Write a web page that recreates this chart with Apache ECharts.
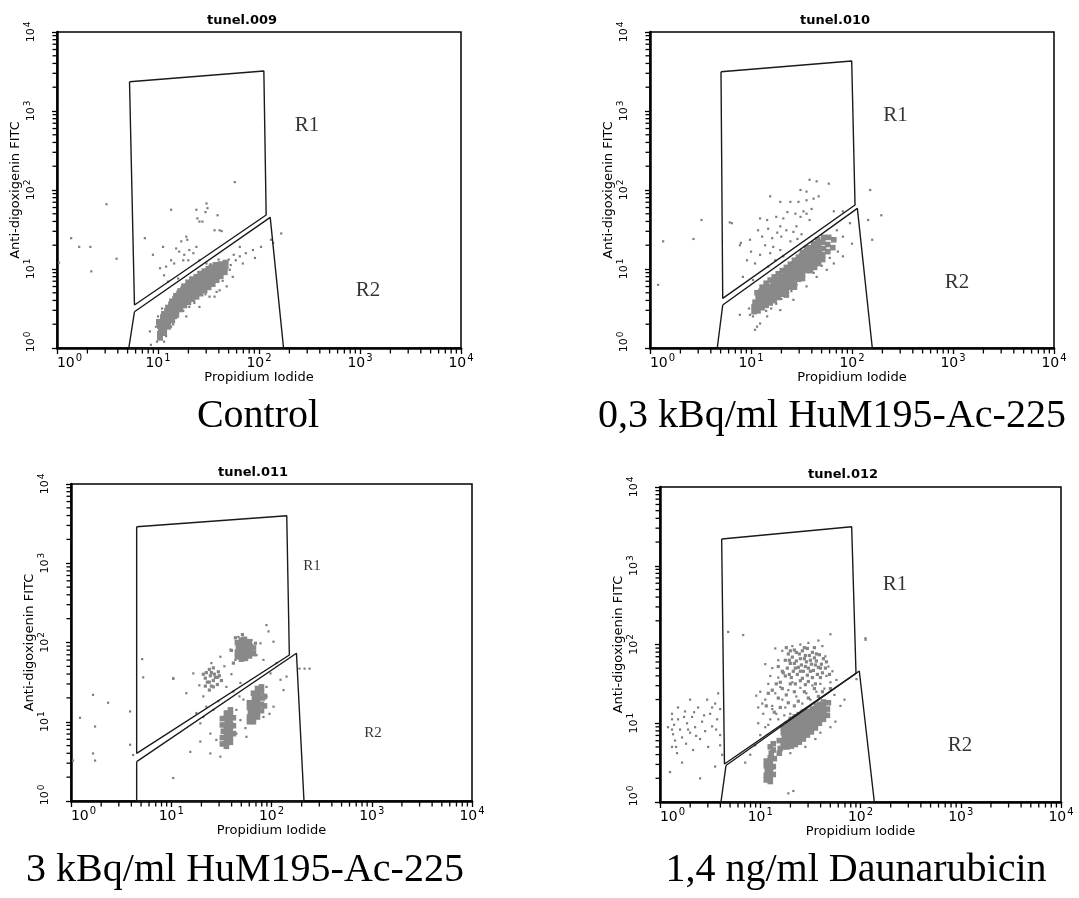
<!DOCTYPE html>
<html>
<head>
<meta charset="utf-8">
<script src="https://cdn.jsdelivr.net/npm/echarts@6/dist/echarts.min.js"></script>
<style>
  html, body { margin: 0; padding: 0; background: #fff; }
  #chart { width: 1079px; height: 898px; }
</style>
</head>
<body>
<div id="chart"></div>
<script>
// All event coordinates are in decades (log10 of channel intensity), 0..4.
const decadeExponents = [0, 1, 2, 3, 4];
const minorMultipliers = [2, 3, 4, 5, 6, 7, 8, 9];
const panelTitles = ['tunel.009', 'tunel.010', 'tunel.011', 'tunel.012'];
const panelCaptions = ['Control', '0,3 kBq/ml HuM195-Ac-225', '3 kBq/ml HuM195-Ac-225', '1,4 ng/ml Daunarubicin'];
const xAxisName = 'Propidium Iodide';
const yAxisName = 'Anti-digoxigenin FITC';

// ---- Control (tunel.009) ----
const ctrlGateR1 = [[0.718,3.371],[2.048,3.506],[2.071,1.684],[0.767,0.544],[0.718,3.371]];
const ctrlGateR2 = [[0.767,0.459],[2.111,1.654],[2.243,0],[0.711,0],[0.767,0.459]];
const ctrlRegions = [[2.475,2.816,'R1'],[3.079,0.728,'R2']];
const ctrlCore = [
  [1.02,0.13],[1.02,0.18],[1.03,0.23],[1.02,0.28],[1.01,0.33],
  [1.06,0.19],[1.06,0.24],[1.07,0.29],[1.06,0.34],[1.05,0.39],[1.06,0.43],
  [1.10,0.27],[1.10,0.32],[1.11,0.37],[1.10,0.42],[1.09,0.47],[1.10,0.51],
  [1.14,0.35],[1.14,0.40],[1.15,0.45],[1.14,0.50],[1.13,0.55],[1.14,0.59],
  [1.18,0.42],[1.18,0.47],[1.19,0.52],[1.18,0.57],[1.17,0.62],[1.18,0.66],
  [1.22,0.49],[1.22,0.54],[1.23,0.59],[1.22,0.64],[1.21,0.69],[1.22,0.72],
  [1.26,0.54],[1.26,0.59],[1.27,0.64],[1.26,0.69],[1.25,0.74],[1.26,0.78],
  [1.30,0.58],[1.30,0.63],[1.31,0.68],[1.30,0.73],[1.29,0.78],[1.30,0.83],
  [1.34,0.62],[1.34,0.67],[1.35,0.72],[1.34,0.77],[1.33,0.82],[1.34,0.87],
  [1.38,0.65],[1.38,0.70],[1.39,0.75],[1.38,0.80],[1.37,0.85],[1.38,0.90],
  [1.42,0.69],[1.42,0.74],[1.43,0.79],[1.42,0.84],[1.41,0.89],[1.42,0.94],
  [1.46,0.73],[1.46,0.78],[1.47,0.83],[1.46,0.88],[1.45,0.93],[1.46,0.97],
  [1.50,0.77],[1.50,0.82],[1.51,0.87],[1.50,0.92],[1.49,0.97],[1.50,1.00],
  [1.54,0.81],[1.54,0.86],[1.55,0.91],[1.54,0.96],[1.53,1.02],
  [1.58,0.86],[1.58,0.91],[1.59,0.96],[1.58,1.01],[1.57,1.05],
  [1.62,0.91],[1.62,0.96],[1.63,1.01],[1.62,1.06],
  [1.66,0.96],[1.66,1.02],[1.67,1.08]
];
const ctrlSparse = [
  [1.48,1.83],[1.49,1.77],[1.47,1.72],[1.38,1.75],[1.39,1.64],[1.59,1.68],[1.41,1.60],[1.44,1.60],
  [1.56,1.49],[1.61,1.49],[1.63,1.48],
  [1.13,1.75],[0.87,1.39],[0.95,1.18],[1.05,1.28],[1.18,1.26],[1.21,1.22],[1.23,1.35],[1.28,1.41],
  [1.29,1.37],[1.26,1.18],[1.25,1.11],[1.30,1.11],[1.08,1.03],[1.02,1.01],[1.06,0.92],[1.13,1.11],
  [1.16,1.07],[1.31,1.24],[1.35,1.20],[1.38,1.28],[1.20,0.88],[1.10,0.84],[1.41,1.11],[1.48,1.07],
  [1.81,1.16],[1.87,1.20],[1.77,1.11],[1.84,1.07],[1.94,1.24],[2.02,1.28],[1.96,1.14],[1.71,0.99],
  [1.74,0.90],[1.68,0.78],[1.61,0.73],[1.56,0.65],[1.81,1.28],
  [2.12,1.37],[2.14,1.33],[2.22,1.45],
  [0.92,0.21],[0.98,0.27],[1.13,0.27],[1.18,0.38],[1.28,0.40],[1.31,0.52],[1.41,0.52],[1.51,0.65],
  [1.58,0.71],[0.93,0.04],
  [1.00,0.40],[1.04,0.50],[1.12,0.58],[1.16,0.66],[1.24,0.78],[1.32,0.88],[1.40,0.96],[1.52,1.06],
  [1.60,1.12],[1.70,1.12],[1.72,1.05],[1.75,1.18],[1.69,1.02],[1.64,0.85],[1.47,0.68],[1.36,0.57],
  [1.25,0.47],[1.15,0.30],[1.08,0.15],[0.99,0.08],[1.06,0.08],
  [1.76,2.10],
  [0.49,1.82],[0.14,1.39],[0.22,1.28],[0.33,1.28],[0.59,1.13],[0.34,0.97],[0.02,1.08]
];

// ---- 0,3 kBq/ml HuM195-Ac-225 (tunel.010) ----
const ac03GateR1 = [[0.703,3.497],[1.997,3.633],[2.030,1.810],[0.720,0.629],[0.703,3.497]];
const ac03GateR2 = [[0.720,0.544],[2.053,1.768],[2.201,0],[0.666,0],[0.720,0.544]];
const ac03Regions = [[2.431,2.943,'R1'],[3.040,0.829,'R2']];
const ac03Core = [
  [1.03,0.46],[1.03,0.52],[1.04,0.58],
  [1.07,0.47],[1.07,0.53],[1.08,0.59],[1.07,0.65],[1.06,0.70],
  [1.11,0.51],[1.11,0.57],[1.12,0.62],[1.11,0.67],[1.10,0.72],[1.11,0.77],
  [1.15,0.54],[1.15,0.60],[1.16,0.65],[1.15,0.70],[1.14,0.75],[1.15,0.82],
  [1.19,0.57],[1.19,0.62],[1.20,0.68],[1.19,0.73],[1.18,0.78],[1.19,0.86],
  [1.23,0.60],[1.23,0.66],[1.24,0.71],[1.23,0.77],[1.22,0.83],[1.23,0.90],
  [1.27,0.64],[1.27,0.69],[1.28,0.75],[1.27,0.81],[1.26,0.87],[1.27,0.94],
  [1.31,0.68],[1.31,0.74],[1.32,0.79],[1.31,0.85],[1.30,0.91],[1.31,0.98],
  [1.35,0.72],[1.35,0.78],[1.36,0.84],[1.35,0.90],[1.34,0.96],[1.35,1.02],
  [1.39,0.77],[1.39,0.83],[1.40,0.89],[1.39,0.95],[1.38,1.01],[1.39,1.06],
  [1.43,0.82],[1.43,0.88],[1.44,0.94],[1.43,1.00],[1.42,1.06],[1.43,1.11],
  [1.47,0.87],[1.47,0.93],[1.48,0.99],[1.47,1.05],[1.46,1.11],[1.47,1.15],
  [1.51,0.93],[1.51,0.99],[1.52,1.05],[1.51,1.11],[1.50,1.17],[1.51,1.21],
  [1.55,0.98],[1.55,1.04],[1.56,1.10],[1.55,1.16],[1.54,1.21],[1.55,1.26],
  [1.59,1.03],[1.59,1.09],[1.60,1.15],[1.59,1.21],[1.58,1.27],
  [1.63,1.08],[1.63,1.14],[1.64,1.20],[1.63,1.26],[1.62,1.32],
  [1.67,1.13],[1.67,1.19],[1.68,1.25],[1.67,1.31],[1.66,1.37],
  [1.71,1.18],[1.72,1.26],[1.71,1.34],[1.72,1.40],
  [1.76,1.22],[1.76,1.31],[1.77,1.40],
  [1.81,1.27],[1.82,1.37],
  [1.59,0.98],[1.63,1.02],[1.67,1.07],[1.71,1.12],[1.51,0.88],[1.43,0.77],[1.35,0.67]
];
const ac03Sparse = [
  [1.58,2.13],[1.65,2.11],[1.77,2.08],[1.49,2.00],[1.55,1.98],[1.47,1.85],[1.55,1.87],[1.62,1.89],
  [1.67,1.92],[1.52,1.73],[1.55,1.70],[1.49,1.66],[1.58,1.62],[1.19,1.92],[1.29,1.85],[1.39,1.85],
  [1.09,1.64],[1.16,1.62],[1.25,1.66],[1.32,1.64],[1.07,1.49],[1.17,1.51],[1.29,1.54],[1.35,1.49],
  [1.45,1.54],[0.89,1.30],[0.99,1.37],[1.11,1.41],[1.21,1.39],[1.30,1.41],[1.39,1.35],[1.09,1.18],
  [1.19,1.20],[1.29,1.24],[0.96,1.11],[1.04,1.07],[1.17,1.03],[1.24,1.11],[0.81,1.58],[0.92,0.90],
  [1.02,0.86],[1.32,1.16],[1.82,1.73],[1.91,1.73],[1.98,1.58],[1.85,1.49],[1.82,1.37],[1.91,1.41],
  [2.00,1.32],[1.91,1.16],[1.82,1.07],[1.75,0.99],[1.65,0.90],[1.55,0.78],[1.42,0.61],[1.29,0.48],
  [1.16,0.40],[0.99,0.42],[0.89,0.42],[1.06,0.27],[1.04,0.23],[1.09,0.31],[2.18,2.00],[2.29,1.68],
  [2.16,1.62],[2.20,1.37],
  [1.44,1.70],[1.60,1.76],[1.36,1.72],[1.50,1.44],[1.42,1.47],[1.26,1.46],[1.14,1.30],[1.00,1.22],
  [1.22,1.28],[1.46,1.38],
  [1.45,0.80],[1.50,0.86],[1.40,0.72],[1.30,0.62],[1.25,0.56],[1.20,0.50],[1.15,0.47],[1.62,0.95],
  [1.70,1.04],[1.78,1.14],[1.86,1.22],[0.98,0.50],[1.02,0.40],
  [0.51,1.62],[0.43,1.38],[0.13,1.35],[0.08,0.80],[0.79,1.59],[0.90,1.33]
];

// ---- 3 kBq/ml HuM195-Ac-225 (tunel.011) ----
const ac3GateR1 = [[0.655,3.461],[2.152,3.600],[2.178,1.842],[0.655,0.602],[0.655,3.461]];
const ac3GateR2 = [[0.655,0.496],[2.249,1.864],[2.324,0],[0.655,0],[0.655,0.496]];
const ac3Regions = [[2.404,2.959,'R1'],[3.012,0.858,'R2']];
const ac3Core = [
  [1.66,1.82],[1.66,1.88],[1.67,1.94],[1.66,2.00],
  [1.70,1.79],[1.70,1.85],[1.71,1.91],[1.70,1.97],[1.70,2.03],
  [1.74,1.80],[1.74,1.86],[1.75,1.92],[1.74,1.98],[1.73,2.04],
  [1.78,1.83],[1.78,1.89],[1.79,1.95],[1.78,2.01],
  [1.82,1.86],[1.82,1.93],
  [1.51,0.72],[1.51,0.80],[1.52,0.88],[1.51,0.96],[1.51,1.04],
  [1.55,0.69],[1.55,0.75],[1.56,0.81],[1.55,0.87],[1.55,0.93],[1.56,0.99],[1.55,1.05],[1.55,1.11],
  [1.59,0.74],[1.59,0.80],[1.58,0.86],[1.59,0.92],[1.59,0.98],[1.58,1.04],[1.59,1.10],[1.59,1.15],
  [1.62,0.85],[1.62,0.95],[1.62,1.05],
  [1.78,1.00],[1.78,1.06],[1.79,1.12],[1.78,1.18],[1.78,1.24],
  [1.82,1.00],[1.82,1.06],[1.83,1.12],[1.82,1.18],[1.82,1.24],[1.83,1.30],[1.82,1.36],
  [1.86,1.06],[1.86,1.12],[1.87,1.18],[1.86,1.24],[1.86,1.30],[1.87,1.36],[1.86,1.42],
  [1.90,1.14],[1.90,1.22],[1.91,1.30],[1.90,1.38],[1.90,1.44],
  [1.93,1.20],[1.93,1.32]
];
const ac3Cloud = [
  [1.34,1.45],[1.34,1.55],[1.35,1.62],
  [1.38,1.40],[1.38,1.50],[1.39,1.58],[1.38,1.66],
  [1.42,1.44],[1.42,1.52],[1.43,1.60],[1.42,1.68],
  [1.46,1.47],[1.46,1.56],[1.47,1.63],
  [1.50,1.52],[1.62,1.74],[1.64,2.06],[1.84,1.99],[1.60,1.90],[1.71,2.10],
  [1.36,1.50],[1.40,1.62],[1.44,1.56],[1.48,1.58],[1.32,1.60],[1.40,1.45]
];
const ac3Sparse = [
  [1.95,2.22],[1.97,2.14],[1.67,2.07],[1.80,2.03],[1.89,1.99],[2.02,2.01],[1.59,1.91],[1.85,1.84],
  [1.49,1.82],[1.64,1.78],[1.92,1.78],[2.05,1.74],[1.40,1.74],[1.22,1.61],[1.02,1.55],[1.15,1.36],
  [1.32,1.32],[1.55,1.44],[1.62,1.38],[1.69,1.49],[1.99,1.61],[2.09,1.53],[2.12,1.40],[1.95,1.32],
  [2.02,1.19],[1.92,1.06],[1.65,1.15],[1.69,1.02],[1.42,1.15],[1.32,1.06],[1.29,0.98],[1.39,0.85],
  [1.45,0.77],[1.65,0.85],[1.29,0.75],[1.19,0.62],[1.49,0.56],[1.39,0.60],[0.71,1.79],[0.59,1.13],
  [0.62,0.58],[1.02,0.29],[1.95,1.44],[2.15,1.57],[1.75,0.81],[1.35,1.19],[1.25,1.11],
  [1.72,1.28],[1.68,1.32],[1.98,1.10],[1.74,0.92],[1.47,1.26],[1.60,1.60],[1.53,1.70],[1.28,1.46],
  [0.72,1.56],[0.22,1.34],[0.09,1.05],[0.24,0.94],[0.37,1.24],[0.22,0.60],[0.24,0.51],
  [0.02,0.51],[0.59,0.71],[1.02,1.54],[2.28,1.67],[2.33,1.67],[2.38,1.67]
];

// ---- 1,4 ng/ml Daunarubicin (tunel.012) ----
const dnrGateR1 = [[0.615,3.340],[1.912,3.496],[1.955,1.634],[0.643,0.483],[0.615,3.340]];
const dnrGateR2 = [[0.658,0.463],[1.988,1.663],[2.138,0],[0.608,0],[0.658,0.463]];
const dnrRegions = [[2.344,2.762,'R1'],[2.993,0.717,'R2']];
const dnrCore = [
  [1.23,0.70],[1.23,0.76],[1.24,0.82],[1.23,0.88],[1.23,0.94],
  [1.27,0.70],[1.27,0.76],[1.28,0.82],[1.27,0.88],[1.27,0.94],[1.27,0.99],
  [1.31,0.71],[1.31,0.77],[1.32,0.83],[1.31,0.89],[1.31,0.95],[1.32,1.01],[1.31,1.05],
  [1.35,0.73],[1.35,0.79],[1.36,0.85],[1.35,0.91],[1.35,0.97],[1.36,1.03],[1.35,1.08],
  [1.39,0.76],[1.39,0.82],[1.40,0.88],[1.39,0.94],[1.39,1.00],[1.40,1.06],[1.39,1.11],
  [1.43,0.80],[1.43,0.86],[1.44,0.92],[1.43,0.98],[1.43,1.04],[1.44,1.10],[1.43,1.14],
  [1.47,0.85],[1.47,0.91],[1.48,0.97],[1.47,1.03],[1.47,1.09],[1.48,1.15],
  [1.51,0.89],[1.51,0.95],[1.52,1.01],[1.51,1.07],[1.51,1.13],[1.52,1.18],
  [1.55,0.94],[1.55,1.00],[1.56,1.06],[1.55,1.12],[1.55,1.18],[1.56,1.22],
  [1.59,1.00],[1.59,1.06],[1.60,1.12],[1.59,1.18],[1.59,1.24],
  [1.63,1.05],[1.63,1.11],[1.64,1.17],[1.63,1.23],[1.63,1.27],
  [1.67,1.10],[1.67,1.18],[1.68,1.26],
  [1.19,0.62],[1.20,0.68],[1.19,0.78],
  [1.06,0.28],[1.06,0.34],[1.07,0.40],[1.06,0.46],[1.06,0.52],
  [1.10,0.26],[1.10,0.32],[1.10,0.38],[1.11,0.44],[1.10,0.50],[1.10,0.56],[1.11,0.62],[1.10,0.70],
  [1.13,0.35],[1.13,0.45],[1.14,0.55],[1.13,0.66],[1.13,0.74]
];
const dnrCloud = [
  [1.25,1.60],[1.27,1.70],[1.25,1.80],[1.28,1.88],
  [1.31,1.58],[1.33,1.66],[1.30,1.76],[1.32,1.84],[1.34,1.93],
  [1.37,1.62],[1.38,1.71],[1.36,1.79],[1.39,1.88],
  [1.42,1.57],[1.43,1.66],[1.41,1.74],[1.44,1.82],[1.42,1.92],
  [1.47,1.61],[1.48,1.70],[1.46,1.78],[1.49,1.86],[1.47,1.95],
  [1.52,1.58],[1.53,1.67],[1.51,1.75],[1.54,1.83],[1.52,1.90],
  [1.57,1.62],[1.58,1.71],[1.56,1.79],[1.59,1.87],
  [1.62,1.64],[1.61,1.75],[1.63,1.82],
  [1.20,1.52],[1.22,1.66],[1.18,1.72],[1.35,1.50],[1.45,1.49],[1.55,1.50],
  [1.23,1.64],[1.29,1.62],[1.35,1.70],[1.40,1.66],[1.45,1.72],[1.50,1.66],[1.55,1.74],[1.60,1.70],
  [1.29,1.80],[1.34,1.76],[1.40,1.82],[1.45,1.86],[1.50,1.80],[1.56,1.88],[1.36,1.90],[1.44,1.96],
  [1.30,1.92],[1.26,1.96],[1.54,1.96],[1.65,1.70],[1.66,1.78],[1.69,1.62],[1.60,1.58],[1.48,1.53],
  [1.40,1.54],[1.30,1.50],[1.22,1.44],[1.16,1.50],[1.12,1.42],[1.26,1.36],[1.34,1.40],[1.44,1.40],
  [1.54,1.44],[1.62,1.40],[1.70,1.44],[1.58,1.34],[1.48,1.32],[1.38,1.28],[1.28,1.26],[1.18,1.32],
  [1.08,1.38],[1.06,1.22],[1.14,1.14],[1.20,1.20],[1.34,1.22]
];
const dnrSparse = [
  [1.00,1.40],[1.05,1.30],[1.08,1.50],[1.12,1.22],[1.15,1.38],[1.18,1.58],[1.20,1.46],[1.22,1.30],
  [1.25,1.20],[1.28,1.42],[1.32,1.52],[1.30,1.12],[1.36,1.34],[1.40,1.45],[1.42,1.25],[1.46,1.38],
  [1.50,1.30],[1.52,1.48],[1.56,1.40],[1.60,1.50],[1.64,1.44],[1.66,1.60],[1.68,1.72],[1.70,1.52],
  [1.72,1.66],[1.65,1.85],[1.62,1.98],[1.58,2.05],[1.48,2.02],[1.40,2.00],[1.32,1.98],[1.22,1.92],
  [1.18,1.80],[1.12,1.70],[1.15,1.95],[1.74,1.36],[1.76,1.55],[1.10,1.60],[1.05,1.75],[0.98,1.20],
  [1.10,1.05],[1.16,1.12],[1.05,0.95],[1.00,0.85],[0.95,0.72],[1.80,1.22],[1.84,1.30],[1.75,1.02],
  [1.70,0.95],[1.30,0.62],[1.45,0.70],[1.55,0.80],[1.60,0.88],[0.90,0.60],[0.85,0.50],
  [0.98,1.00],[1.03,1.12],[1.08,0.98],[1.12,1.18],[1.18,1.05],[1.02,1.25],[0.96,1.35],[1.24,1.10],
  [1.70,2.13],[2.05,2.08],[1.96,1.56],[2.05,2.06],[0.68,2.16],[0.83,2.12],[1.28,0.11],[1.33,0.14],
  [0.12,1.12],[0.14,0.98],[0.13,0.86],[0.15,0.78],[0.12,0.70],[0.18,1.05],[0.20,0.92],[0.22,0.82],
  [0.17,0.62],[0.25,1.15],[0.27,1.00],[0.30,0.88],[0.26,0.74],[0.32,1.08],[0.35,0.95],[0.33,0.66],
  [0.38,1.20],[0.40,0.80],[0.42,1.02],[0.45,0.90],[0.47,1.30],[0.50,1.12],[0.52,0.96],[0.48,0.70],
  [0.55,1.25],[0.57,1.05],[0.60,0.85],[0.58,1.38],[0.60,1.18],[0.22,0.50],[0.10,0.38],[0.40,0.30],
  [0.55,0.45],[0.62,0.60],[0.08,0.95],[0.30,1.30],
  [0.12,1.05],[0.12,0.92],[0.16,0.70],[0.24,1.08],[0.28,0.92],[0.36,0.84],[0.44,1.10],[0.52,1.20],
  [0.56,0.92],[0.60,0.72],[0.18,1.20],[0.34,1.14]
];

// ---------- chart construction ----------
// minor tick positions inside each decade (log10 of 2..9 times a power of ten)
const minorTickValues = [];
decadeExponents.slice(0, -1).forEach(function (e) {
  minorMultipliers.forEach(function (m) { minorTickValues.push(e + Math.log10(m)); });
});

const panels = [
  { core: ctrlCore, cloud: [], sparse: ctrlSparse, r1: ctrlGateR1, r2: ctrlGateR2, regions: ctrlRegions, regionSize: 21, coreSize: 6 },
  { core: ac03Core, cloud: [], sparse: ac03Sparse, r1: ac03GateR1, r2: ac03GateR2, regions: ac03Regions, regionSize: 21, coreSize: 5.6 },
  { core: ac3Core, cloud: ac3Cloud, sparse: ac3Sparse, r1: ac3GateR1, r2: ac3GateR2, regions: ac3Regions, regionSize: 15, coreSize: 5.6 },
  { core: dnrCore, cloud: dnrCloud, sparse: dnrSparse, r1: dnrGateR1, r2: dnrGateR2, regions: dnrRegions, regionSize: 21, coreSize: 5.6 }
];

const gridBoxes = [
  { left: 57, top: 32, width: 404, height: 316 },
  { left: 650, top: 32, width: 404, height: 316 },
  { left: 71, top: 484, width: 401, height: 317 },
  { left: 660, top: 487, width: 401, height: 315 }
];
const titlePos = [[242, 21], [835, 21], [253, 473], [843, 475]];
const captionPos = [[258, 416], [832, 416], [245, 870], [856, 870]];

const SANS = 'DejaVu Sans';
const SERIF = 'Liberation Serif';

// "10" with a raised exponent; the first decade label is nudged inward
function powerLabel(v) { return (v === 0 ? '{b0|10}' : '{b|10}') + '{e|' + Math.round(v) + '}'; }

const xRich = {
  b: { fontFamily: SANS, fontSize: 14, color: '#000', verticalAlign: 'bottom' },
  b0: { fontFamily: SANS, fontSize: 14, color: '#000', verticalAlign: 'bottom', padding: [0, 0, 0, 25] },
  e: { fontFamily: SANS, fontSize: 10, color: '#000', verticalAlign: 'top', padding: [0, 0, 7, 1] }
};
const yRich = {
  b: { fontFamily: SANS, fontSize: 11, color: '#000', verticalAlign: 'bottom' },
  b0: { fontFamily: SANS, fontSize: 11, color: '#000', verticalAlign: 'bottom', padding: [0, 0, 0, 12] },
  e: { fontFamily: SANS, fontSize: 9, color: '#000', verticalAlign: 'top', padding: [0, 0, 5, 1] }
};

const grid = [], xAxis = [], yAxis = [], series = [], graphic = [];

gridBoxes.forEach(function (box, i) {
  grid.push(Object.assign({ show: true, borderColor: '#000', borderWidth: 1.5, backgroundColor: '#fff' }, box));

  xAxis.push({
    type: 'value', gridIndex: i, min: 0, max: 4, interval: 1,
    name: xAxisName, nameLocation: 'middle', nameGap: 20,
    nameTextStyle: { fontFamily: SANS, fontSize: 13, color: '#000' },
    axisLine: { show: true, onZero: false, lineStyle: { color: '#000', width: 2.5 } },
    axisTick: { show: true, length: 6, lineStyle: { color: '#000', width: 1.3 } },
    axisLabel: { formatter: powerLabel, margin: 5, rich: xRich },
    splitLine: { show: false }
  });

  yAxis.push({
    type: 'value', gridIndex: i, min: 0, max: 4, interval: 1,
    name: yAxisName, nameLocation: 'middle', nameGap: 33, nameRotate: 90,
    nameTextStyle: { fontFamily: SANS, fontSize: 13, color: '#000' },
    axisLine: { show: true, onZero: false, lineStyle: { color: '#000', width: 2.5 } },
    axisTick: { show: true, length: 5, lineStyle: { color: '#000', width: 1.3 } },
    axisLabel: { formatter: powerLabel, rotate: 90, margin: 20, rich: yRich },
    splitLine: { show: false }
  });

  // minor log ticks along both axes
  series.push({
    type: 'scatter', xAxisIndex: i, yAxisIndex: i, silent: true, clip: false, z: 6,
    data: minorTickValues.map(function (v) { return [v, 0]; }),
    symbol: 'rect', symbolSize: [1.3, 5], symbolOffset: [0, 3], itemStyle: { color: '#000', opacity: 1 }
  });
  series.push({
    type: 'scatter', xAxisIndex: i, yAxisIndex: i, silent: true, clip: false, z: 6,
    data: minorTickValues.map(function (v) { return [0, v]; }),
    symbol: 'rect', symbolSize: [4, 1.3], symbolOffset: [-2.5, 0], itemStyle: { color: '#000', opacity: 1 }
  });

  const p = panels[i];
  series.push({
    type: 'scatter', xAxisIndex: i, yAxisIndex: i, data: p.sparse,
    symbol: 'rect', symbolSize: 2.2, itemStyle: { color: '#7d7d7d', opacity: 1 }, silent: true, z: 2
  });
  series.push({
    type: 'scatter', xAxisIndex: i, yAxisIndex: i, data: p.cloud,
    symbol: 'rect', symbolSize: 3.2, itemStyle: { color: '#858585', opacity: 1 }, silent: true, z: 2
  });
  series.push({
    type: 'scatter', xAxisIndex: i, yAxisIndex: i, data: p.core,
    symbol: 'rect', symbolSize: p.coreSize, itemStyle: { color: '#898989', opacity: 1 }, silent: true, z: 2
  });
  [p.r1, p.r2].forEach(function (gate) {
    series.push({
      type: 'line', xAxisIndex: i, yAxisIndex: i, data: gate, symbol: 'none',
      lineStyle: { color: '#1a1a1a', width: 1.4 }, silent: true, z: 4, clip: false
    });
  });
  series.push({
    type: 'scatter', xAxisIndex: i, yAxisIndex: i, data: p.regions, symbolSize: 0, silent: true, z: 5,
    label: {
      show: true, position: 'inside', color: '#000', fontFamily: SERIF, fontSize: p.regionSize,
      formatter: function (d) { return d.data[2]; }
    }
  });

  graphic.push({
    type: 'text', x: titlePos[i][0], y: titlePos[i][1],
    style: { text: panelTitles[i], fontFamily: SANS, fontSize: 13, fontWeight: 'bold', fill: '#000',
             textAlign: 'center', textVerticalAlign: 'middle' }
  });
  graphic.push({
    type: 'text', x: captionPos[i][0], y: captionPos[i][1],
    style: { text: panelCaptions[i], fontFamily: SERIF, fontSize: 40, fill: '#000',
             textAlign: 'center', textVerticalAlign: 'middle' }
  });
});

const chart = echarts.init(document.getElementById('chart'), null, { renderer: 'canvas' });
chart.setOption({
  backgroundColor: '#fff',
  animation: false,
  grid: grid,
  xAxis: xAxis,
  yAxis: yAxis,
  series: series,
  graphic: graphic
});
</script>
</body>
</html>
